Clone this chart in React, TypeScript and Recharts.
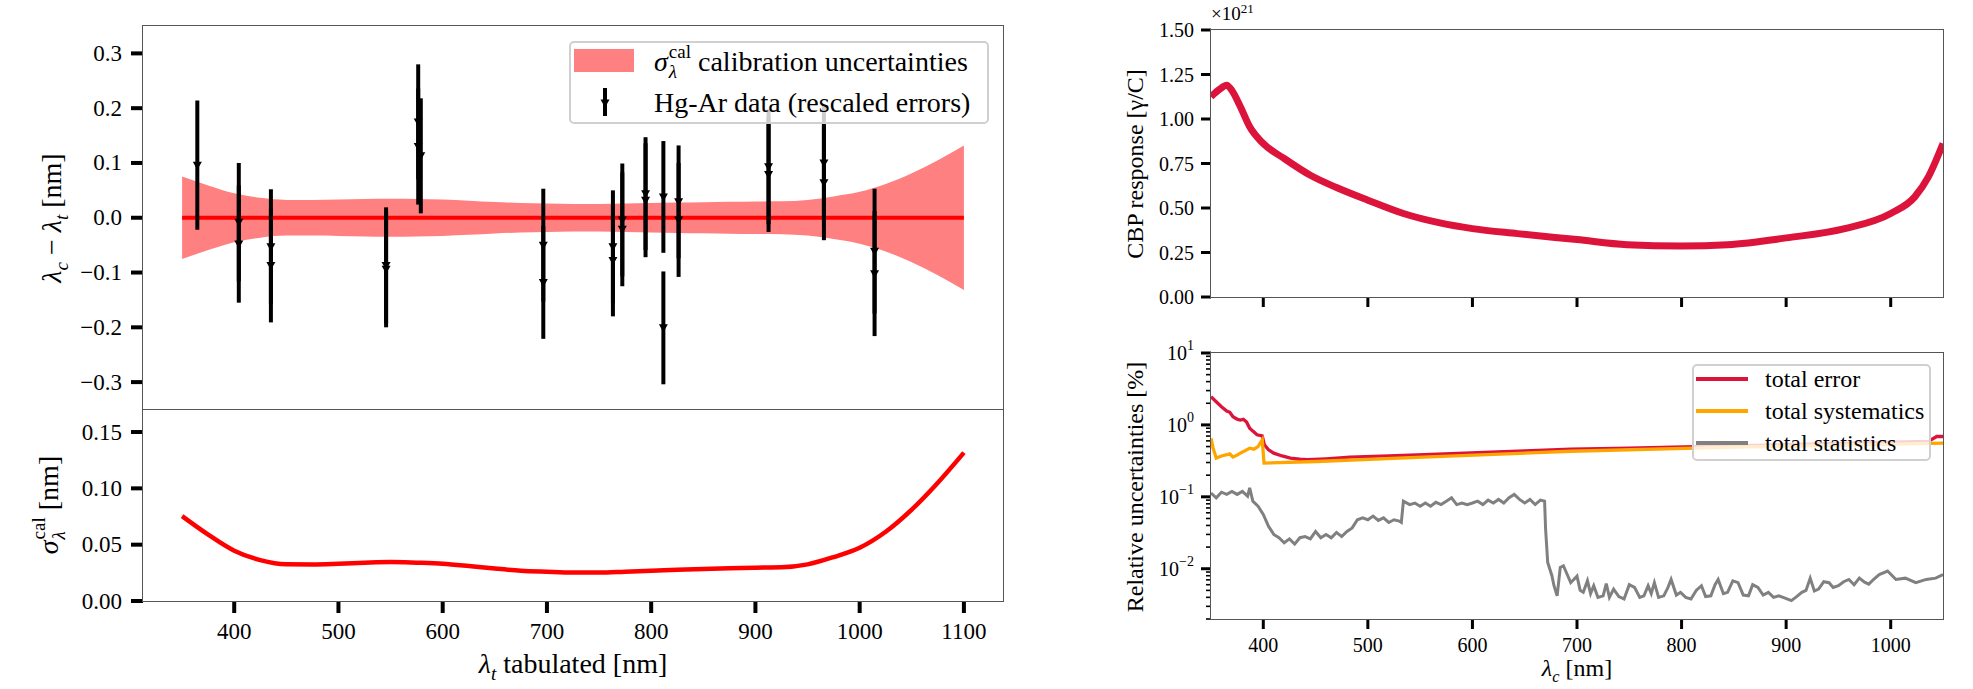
import { ComposedChart, LineChart, Line, Area, Scatter, ErrorBar, XAxis, YAxis } from 'recharts';

const SERIF = '"Liberation Serif", "DejaVu Serif", serif';

// calibration uncertainty sigma_cal vs tabulated wavelength
const sigmaWl = [350, 375, 400, 425, 450, 475, 500, 525, 550, 575, 600, 625, 650, 675, 700, 725, 750, 775, 800, 825, 850, 875, 900, 925, 950, 975, 1000, 1025, 1050, 1075, 1100];
const sigmaCal = [0.0754, 0.059, 0.0447, 0.0363, 0.0326, 0.0325, 0.0331, 0.034, 0.0346, 0.034, 0.0331, 0.0311, 0.0288, 0.0269, 0.026, 0.0253, 0.0252, 0.026, 0.0269, 0.0277, 0.0285, 0.0291, 0.0296, 0.0299, 0.0325, 0.039, 0.0473, 0.0615, 0.0812, 0.105, 0.1317];

// Hg-Ar lines: residuals and rescaled errors
const hgWl = [364.6, 404.4, 404.4, 435.2, 435.2, 545.7, 545.7, 576.5, 576.5, 579.0, 696.5, 696.5, 763.3, 763.3, 772.3, 772.3, 794.6, 794.6, 811.7, 811.7, 826.3, 826.3, 912.6, 912.6, 965.7, 965.7, 1014.3, 1014.3];
const hgRes = [0.096, -0.008, -0.048, -0.053, -0.087, -0.087, -0.094, 0.175, 0.13, 0.113, -0.05, -0.118, -0.053, -0.078, -0.004, -0.021, 0.044, 0.032, 0.038, -0.201, 0.029, -0.004, 0.093, 0.079, 0.1, 0.064, -0.061, -0.102];
const hgErr = [0.118, 0.108, 0.107, 0.105, 0.104, 0.106, 0.106, 0.105, 0.106, 0.105, 0.103, 0.103, 0.103, 0.102, 0.103, 0.104, 0.103, 0.104, 0.102, 0.103, 0.103, 0.104, 0.105, 0.105, 0.105, 0.105, 0.114, 0.114];

// CBP response, units of 1e21 photons / C
const cbpWl = [350, 358, 365, 370, 378, 387, 400, 420, 445, 470, 500, 534, 569, 600, 643, 700, 748, 800, 844, 900, 956, 1000, 1023, 1036, 1050];
const cbpResp = [1.125, 1.166, 1.19, 1.16, 1.07, 0.956, 0.862, 0.778, 0.684, 0.615, 0.544, 0.469, 0.416, 0.384, 0.356, 0.3225, 0.294, 0.287, 0.294, 0.332, 0.384, 0.469, 0.5625, 0.675, 0.8625];

// relative uncertainties [%]
const errWl = [350, 355, 360, 365, 368, 371, 375, 378, 381, 384, 387, 390, 394, 399, 401, 405, 410, 418, 426, 435, 442, 460, 483, 520, 547, 580, 611, 650, 694, 750, 812, 900, 980, 1036, 1044, 1050];
const errTotal = [2.47, 2.1, 1.79, 1.56, 1.5, 1.3, 1.2, 1.17, 1.2, 1.1, 0.9, 0.82, 0.73, 0.705, 0.53, 0.45, 0.405, 0.37, 0.346, 0.333, 0.328, 0.338, 0.357, 0.37, 0.384, 0.398, 0.414, 0.435, 0.46, 0.475, 0.5, 0.53, 0.565, 0.59, 0.69, 0.69];
const sysWl = [350, 352, 355, 360, 365, 368, 371, 375, 378, 383, 387, 391, 395, 399, 400.7, 451, 547, 694, 850, 1050];
const sysTotal = [0.65, 0.475, 0.346, 0.37, 0.385, 0.397, 0.357, 0.38, 0.405, 0.44, 0.475, 0.46, 0.5, 0.62, 0.295, 0.31, 0.353, 0.43, 0.49, 0.557];
const statWl = [350, 355, 360, 365, 370, 375, 380, 385, 387, 390, 395, 400, 405, 410, 415, 420, 425, 430, 435, 440, 445, 450, 455, 460, 465, 470, 475, 480, 485, 490, 495, 500, 505, 510, 515, 520, 525, 530, 532, 534, 540, 545, 550, 555, 560, 565, 570, 575, 580, 585, 590, 595, 600, 605, 610, 615, 620, 625, 630, 635, 640, 645, 650, 655, 660, 665, 669, 670, 672, 676, 678, 681, 684, 687, 694, 700, 703, 706, 710, 713, 716, 720, 725, 728, 731, 735, 740, 745, 750, 755, 760, 764, 768, 771, 774, 778, 783, 787, 790, 795, 799, 804, 809, 814, 819, 823, 828, 832, 835, 840, 844, 849, 854, 859, 864, 868, 873, 878, 883, 888, 893, 899, 905, 910, 915, 919, 923, 927, 931, 936, 941, 945, 950, 955, 960, 965, 970, 975, 979, 984, 989, 997, 1005, 1014, 1024, 1034, 1043, 1050];
const statTotal = [0.113, 0.097, 0.116, 0.108, 0.119, 0.108, 0.119, 0.102, 0.133, 0.087, 0.074, 0.057, 0.039, 0.03, 0.027, 0.023, 0.026, 0.022, 0.027, 0.028, 0.026, 0.033, 0.027, 0.03, 0.027, 0.032, 0.028, 0.033, 0.037, 0.048, 0.051, 0.048, 0.054, 0.047, 0.051, 0.044, 0.048, 0.046, 0.044, 0.087, 0.078, 0.082, 0.074, 0.082, 0.074, 0.084, 0.078, 0.087, 0.097, 0.078, 0.082, 0.078, 0.082, 0.087, 0.078, 0.09, 0.082, 0.092, 0.082, 0.097, 0.108, 0.092, 0.082, 0.092, 0.078, 0.09, 0.087, 0.035, 0.0122, 0.008, 0.0058, 0.0042, 0.0104, 0.011, 0.0064, 0.0079, 0.005, 0.0047, 0.0068, 0.0045, 0.0058, 0.004, 0.0042, 0.0062, 0.004, 0.0052, 0.0041, 0.0038, 0.006, 0.0055, 0.004, 0.0042, 0.0058, 0.0045, 0.0064, 0.004, 0.0042, 0.0055, 0.0071, 0.0043, 0.0047, 0.004, 0.0038, 0.005, 0.0058, 0.0041, 0.0042, 0.006, 0.0071, 0.0045, 0.0047, 0.0068, 0.0064, 0.0043, 0.0042, 0.006, 0.0055, 0.0043, 0.0047, 0.004, 0.0042, 0.0039, 0.0036, 0.0041, 0.0047, 0.005, 0.0074, 0.0049, 0.0052, 0.0066, 0.0064, 0.0055, 0.0058, 0.0066, 0.0071, 0.006, 0.0074, 0.0065, 0.0061, 0.0072, 0.0083, 0.0093, 0.0071, 0.0074, 0.0064, 0.0071, 0.0074, 0.0083];

const resTicks = [-0.3, -0.2, -0.1, 0, 0.1, 0.2, 0.3];
const sigTicks = [0, 0.05, 0.1, 0.15];
const tabTicks = [400, 500, 600, 700, 800, 900, 1000, 1100];
const cbpTicks = [0, 0.25, 0.5, 0.75, 1, 1.25, 1.5];
const wlTicks = [400, 500, 600, 700, 800, 900, 1000];
const logTicks = [0.002, 0.003, 0.004, 0.005, 0.006, 0.007, 0.008, 0.009, 0.01, 0.02, 0.03, 0.04, 0.05, 0.06, 0.07, 0.08, 0.09, 0.1, 0.2, 0.3, 0.4, 0.5, 0.6, 0.7, 0.8, 0.9, 1, 2, 3, 4, 5, 6, 7, 8, 9, 10];
const logLabels: Record<string, string> = { '0.01': '−2', '0.1': '−1', '1': '0', '10': '1' };

const bandData = sigmaWl.map((x, i) => ({ x, s: sigmaCal[i], band: [-sigmaCal[i], sigmaCal[i]], zero: 0 }));
const hgData = hgWl.map((x, i) => ({ x, y: hgRes[i], err: hgErr[i] }));
const cbpData = cbpWl.map((x, i) => ({ x, r: cbpResp[i] }));

const uncData = (() => {
  const m = new Map<number, any>();
  const put = (xs: number[], ys: number[], k: string) =>
    xs.forEach((x, i) => {
      const row = m.get(x) ?? { x };
      row[k] = ys[i];
      m.set(x, row);
    });
  put(errWl, errTotal, 'err');
  put(sysWl, sysTotal, 'sys');
  put(statWl, statTotal, 'stat');
  return [...m.values()].sort((a, b) => a.x - b.x);
})();

const signed = (v: number, d: number) => (v < 0 ? '−' : '') + Math.abs(v).toFixed(d);

const txtStyle = { fontFamily: SERIF };

const yTick = (fmt: (v: number) => string, len: number, w: number, gap: number, fs: number) => (p: any) => (
  <g>
    <line x1={p.x - len} x2={p.x} y1={p.y} y2={p.y} stroke="#000" strokeWidth={w} />
    <text x={p.x - gap} y={p.y} textAnchor="end" dominantBaseline="central" fontSize={fs} style={txtStyle} fill="#000">
      {fmt(p.payload.value)}
    </text>
  </g>
);

const xTick = (len: number, w: number, gap: number, fs: number, label: boolean) => (p: any) => (
  <g>
    <line x1={p.x} x2={p.x} y1={p.y} y2={p.y + len} stroke="#000" strokeWidth={w} />
    {label && (
      <text x={p.x} y={p.y + gap} textAnchor="middle" dominantBaseline="central" fontSize={fs} style={txtStyle} fill="#000">
        {p.payload.value}
      </text>
    )}
  </g>
);

const logTick = (p: any) => {
  const exp = logLabels[String(p.payload.value)];
  if (exp === undefined) {
    return <line x1={p.x - 5} x2={p.x} y1={p.y} y2={p.y} stroke="#000" strokeWidth={1.6} />;
  }
  return (
    <g>
      <line x1={p.x - 10} x2={p.x} y1={p.y} y2={p.y} stroke="#000" strokeWidth={3} />
      <text x={p.x - 17} y={p.y} textAnchor="end" dominantBaseline="central" fontSize={20} style={txtStyle} fill="#000">
        <tspan>10</tspan>
        <tspan dy={-8} fontSize={14}>{exp}</tspan>
      </text>
    </g>
  );
};

const triangle = (p: any) => (
  <path d={`M${p.cx - 4.5},${p.cy - 3.5} L${p.cx + 4.5},${p.cy - 3.5} L${p.cx},${p.cy + 4.5} Z`} fill="#000" />
);

const Lam = ({ s }: { s: string }) => (
  <>
    <i>λ</i>
    <sub style={{ fontSize: '0.68em', lineHeight: 0 }}>
      <i>{s}</i>
    </sub>
  </>
);

const SigmaCal = () => (
  <>
    <i>σ</i>
    <span
      style={{
        display: 'inline-flex',
        flexDirection: 'column',
        verticalAlign: 'middle',
        fontSize: '0.68em',
        lineHeight: 1.05,
        marginLeft: 1,
        position: 'relative',
        top: '-0.15em',
      }}
    >
      <span>cal</span>
      <i>λ</i>
    </span>
  </>
);

const abs = (left: number, top: number, extra: any = {}) => ({ position: 'absolute' as const, left, top, ...extra });

const centered = (cx: number, cy: number, fs: number, rotate: boolean) =>
  abs(cx, cy, {
    transform: `translate(-50%, -50%)${rotate ? ' rotate(-90deg)' : ''}`,
    whiteSpace: 'nowrap',
    fontSize: fs,
    lineHeight: 1,
  });

const frame = (x: number, y: number, w: number, h: number) => (
  <div style={abs(x - 0.75, y - 0.75, { width: w + 1.5, height: h + 1.5, border: '1.5px solid #555', boxSizing: 'border-box', pointerEvents: 'none' })} />
);

export default function App() {
  return (
    <div style={{ position: 'absolute', left: 0, top: 0, width: 1973, height: 689, background: '#fff', fontFamily: SERIF, color: '#000', overflow: 'hidden' }}>
      {/* residuals with calibration band */}
      <div style={abs(0, 0)}>
        <ComposedChart width={1010} height={412} data={bandData} margin={{ top: 26, right: 7, bottom: 2.5, left: 0 }}>
          <XAxis dataKey="x" type="number" domain={[312.5, 1137.5]} allowDataOverflow hide />
          <YAxis
            type="number"
            domain={[-0.35, 0.35]}
            allowDataOverflow
            width={143}
            ticks={resTicks}
            interval={0}
            axisLine={false}
            tickLine={false}
            tickSize={0}
            tickMargin={0}
            tick={yTick((v) => signed(v, 1), 12, 4, 21, 23)}
          />
          <Area type="monotone" dataKey="band" stroke="none" fill="#ff8080" fillOpacity={1} isAnimationActive={false} />
          <Line type="linear" dataKey="zero" stroke="#ff0000" strokeWidth={4} dot={false} isAnimationActive={false} />
          <Scatter data={hgData} dataKey="y" shape={triangle} isAnimationActive={false}>
            <ErrorBar dataKey="err" direction="y" width={0} stroke="#000" strokeWidth={4} isAnimationActive={false} />
          </Scatter>
        </ComposedChart>
      </div>

      {/* sigma_cal */}
      <div style={abs(0, 400)}>
        <LineChart width={1010} height={289} data={bandData} margin={{ top: 9.5, right: 7, bottom: 0, left: 0 }}>
          <XAxis
            dataKey="x"
            type="number"
            domain={[312.5, 1137.5]}
            allowDataOverflow
            height={88}
            ticks={tabTicks}
            interval={0}
            axisLine={false}
            tickLine={false}
            tickSize={0}
            tickMargin={0}
            tick={xTick(12, 4, 30, 23, true)}
          />
          <YAxis
            type="number"
            domain={[0, 0.17]}
            allowDataOverflow
            width={143}
            ticks={sigTicks}
            interval={0}
            axisLine={false}
            tickLine={false}
            tickSize={0}
            tickMargin={0}
            tick={yTick((v) => v.toFixed(2), 12, 4, 21, 23)}
          />
          <Line type="monotone" dataKey="s" stroke="#ff0000" strokeWidth={4.5} dot={false} isAnimationActive={false} />
        </LineChart>
      </div>

      {/* CBP response */}
      <div style={abs(1100, 0)}>
        <LineChart width={873} height={330} data={cbpData} margin={{ top: 30, right: 30, bottom: 0, left: 0 }}>
          <XAxis
            dataKey="x"
            type="number"
            domain={[350, 1050]}
            allowDataOverflow
            height={33}
            ticks={wlTicks}
            interval={0}
            axisLine={false}
            tickLine={false}
            tickSize={0}
            tickMargin={0}
            tick={xTick(10, 3, 26, 20, false)}
          />
          <YAxis
            type="number"
            domain={[0, 1.5]}
            allowDataOverflow
            width={111}
            ticks={cbpTicks}
            interval={0}
            axisLine={false}
            tickLine={false}
            tickSize={0}
            tickMargin={0}
            tick={yTick((v) => v.toFixed(2), 10, 3, 17, 20)}
          />
          <Line type="monotone" dataKey="r" stroke="#dc143c" strokeWidth={7} dot={false} isAnimationActive={false} />
        </LineChart>
      </div>

      {/* relative uncertainties */}
      <div style={abs(1100, 330)}>
        <LineChart width={873} height={359} data={uncData} margin={{ top: 23, right: 30, bottom: 0, left: 0 }}>
          <XAxis
            dataKey="x"
            type="number"
            domain={[350, 1050]}
            allowDataOverflow
            height={70}
            ticks={wlTicks}
            interval={0}
            axisLine={false}
            tickLine={false}
            tickSize={0}
            tickMargin={0}
            tick={xTick(10, 3, 26, 20, true)}
          />
          <YAxis
            type="number"
            scale="log"
            domain={[0.002, 10]}
            allowDataOverflow
            width={111}
            ticks={logTicks}
            interval={0}
            axisLine={false}
            tickLine={false}
            tickSize={0}
            tickMargin={0}
            tick={logTick}
          />
          <Line type="linear" dataKey="err" stroke="#dc143c" strokeWidth={3.3} dot={false} connectNulls isAnimationActive={false} />
          <Line type="linear" dataKey="sys" stroke="#ffa500" strokeWidth={3.3} dot={false} connectNulls isAnimationActive={false} />
          <Line type="linear" dataKey="stat" stroke="#808080" strokeWidth={3} dot={false} connectNulls isAnimationActive={false} />
        </LineChart>
      </div>

      {frame(143, 26, 860, 575)}
      <div style={abs(143, 408.75, { width: 860, height: 1.5, background: '#555' })} />
      {frame(1211, 30, 732, 267)}
      {frame(1211, 353, 732, 266)}

      {/* axis titles */}
      <div style={centered(52, 218, 28, true)}>
        <Lam s="c" /> − <Lam s="t" /> [nm]
      </div>
      <div style={centered(52, 505, 28, true)}>
        <SigmaCal /> [nm]
      </div>
      <div style={centered(573, 664, 28, false)}>
        <Lam s="t" /> tabulated [nm]
      </div>
      <div style={centered(1135, 164, 24, true)}>CBP response [γ/C]</div>
      <div style={centered(1135, 487, 24, true)}>Relative uncertainties [%]</div>
      <div style={centered(1577, 668, 24, false)}>
        <Lam s="c" /> [nm]
      </div>
      <div style={abs(1211, 2, { fontSize: 19, lineHeight: 1, whiteSpace: 'nowrap' })}>
        ×10<sup style={{ fontSize: 13 }}>21</sup>
      </div>

      {/* left legend */}
      <div style={abs(569, 41, { width: 420, height: 83, border: '2px solid #d0d0d0', borderRadius: 5, background: 'rgba(255,255,255,0.8)', boxSizing: 'border-box' })}>
        <div style={abs(3, 6, { width: 60, height: 23, background: '#ff8080' })} />
        <div style={abs(83, 2, { fontSize: 28, lineHeight: '34px', whiteSpace: 'nowrap' })}>
          <SigmaCal /> calibration uncertainties
        </div>
        <div style={abs(32, 45, { width: 4, height: 28, background: '#000' })} />
        <svg style={abs(28, 54)} width={12} height={12}>
          <path d="M1.5,2.5 L10.5,2.5 L6,10.5 Z" fill="#000" />
        </svg>
        <div style={abs(83, 43, { fontSize: 28, lineHeight: '34px', whiteSpace: 'nowrap' })}>Hg-Ar data (rescaled errors)</div>
      </div>

      {/* right legend */}
      <div style={abs(1692, 364, { width: 239, height: 97, border: '2px solid #d0d0d0', borderRadius: 5, background: 'rgba(255,255,255,0.8)', boxSizing: 'border-box' })}>
        {[
          { c: '#dc143c', t: 'total error', y: 13 },
          { c: '#ffa500', t: 'total systematics', y: 45 },
          { c: '#808080', t: 'total statistics', y: 77 },
        ].map((r) => (
          <div key={r.t}>
            <div style={abs(2, r.y - 2, { width: 52, height: 4, background: r.c })} />
            <div style={abs(71, r.y - 14, { fontSize: 24, lineHeight: '28px', whiteSpace: 'nowrap' })}>{r.t}</div>
          </div>
        ))}
      </div>
    </div>
  );
}
